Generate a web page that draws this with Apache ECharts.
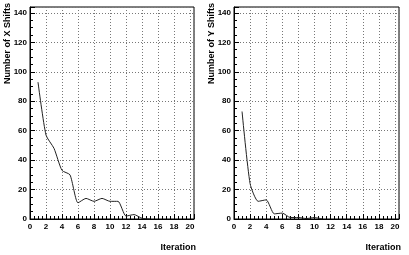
<!DOCTYPE html>
<html><head><meta charset="utf-8">
<script src="https://cdn.jsdelivr.net/npm/echarts@6/dist/echarts.min.js"></script>
<style>html,body{margin:0;padding:0;background:#fff}#c{width:409px;height:255px}</style>
</head><body><div id="c"></div>
<script>
const iterX = [1,2,3,4,5,6,7,8,9,10,11,12,13,14,15];
const xShifts = [93,57,48,33,30,11,14,12,14,12,12,2,3,0.5,0];
const iterY = [1,2,3,4,5,6,7,8,9,10,11];
const yShifts = [73,24,12,13,3.5,4,1,1,0.3,1,0];
const xTicks = [0,2,4,6,8,10,12,14,16,18,20];
const yTicks = [0,20,40,60,80,100,120,140];

const FONT = 'Liberation Sans';
function xAxis(i){return {type:'value',gridIndex:i,min:0,max:20.5,interval:2,
  axisLine:{lineStyle:{color:'#000',width:1}},
  axisTick:{inside:true,length:5,lineStyle:{color:'#000'}},
  minorTick:{show:true,splitNumber:4,length:3,lineStyle:{color:'#000'}},
  axisLabel:{showMaxLabel:false,color:'#000',fontFamily:FONT,fontWeight:'bold',fontSize:8,margin:4,
    formatter:v=>xTicks.includes(v)?String(v):''},
  splitLine:{show:true,lineStyle:{color:'#777',type:[1,2],width:1}}};}
function yAxis(i){return {type:'value',gridIndex:i,min:0,max:144,interval:20,
  axisLine:{show:true,lineStyle:{color:'#000',width:1}},
  axisTick:{show:true,inside:true,length:5,lineStyle:{color:'#000'}},
  minorTick:{show:true,splitNumber:4,length:3,lineStyle:{color:'#000'}},
  axisLabel:{showMaxLabel:false,color:'#000',fontFamily:FONT,fontWeight:'bold',fontSize:8,margin:3,
    formatter:v=>yTicks.includes(v)?String(v):''},
  splitLine:{show:true,lineStyle:{color:'#777',type:[1,2],width:1}}};}
const chart = echarts.init(document.getElementById('c'));
chart.setOption({
  animation:false,
  grid:[{left:30,top:7,width:164,height:212,show:true,borderColor:'#000',borderWidth:1},
        {left:234,top:7,width:165,height:212,show:true,borderColor:'#000',borderWidth:1}],
  xAxis:[xAxis(0),xAxis(1)],
  yAxis:[yAxis(0),yAxis(1)],
  series:[
    {type:'line',xAxisIndex:0,yAxisIndex:0,data:iterX.map((x,i)=>[x,xShifts[i]]),smooth:0.2,
     showSymbol:false,lineStyle:{color:'#222',width:1}},
    {type:'line',xAxisIndex:1,yAxisIndex:1,data:iterY.map((x,i)=>[x,yShifts[i]]),smooth:0.2,
     showSymbol:false,lineStyle:{color:'#222',width:1}}
  ],
  graphic:[
    {type:'text',x:8,y:3,rotation:Math.PI/2,style:{text:'Number of X Shifts',font:'bold 9px Liberation Sans',fill:'#000',align:'right',verticalAlign:'middle'}},
    {type:'text',x:212,y:3,rotation:Math.PI/2,style:{text:'Number of Y Shifts',font:'bold 9px Liberation Sans',fill:'#000',align:'right',verticalAlign:'middle'}},
    {type:'text',x:196,y:248,style:{text:'Iteration',font:'bold 9px Liberation Sans',fill:'#000',align:'right',verticalAlign:'middle'}},
    {type:'text',x:401,y:248,style:{text:'Iteration',font:'bold 9px Liberation Sans',fill:'#000',align:'right',verticalAlign:'middle'}}
  ]
});
</script></body></html>
